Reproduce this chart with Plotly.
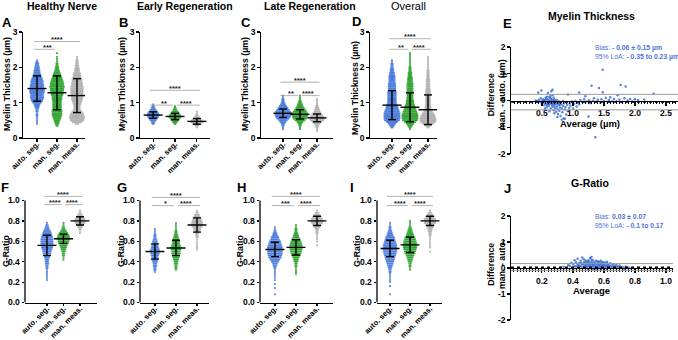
import plotly.graph_objects as go

W, H = 678, 340
FONT = "Liberation Sans, Arial, sans-serif"

CATEGORIES = ["auto. seg.", "man. seg.", "man. meas."]
COLORS = ["#3B6FD8", "#1E9B1E", "#A9A9A9"]

THICK_TICKS = [0, 1, 2, 3]
THICK_TICKTEXT = ["0", "1", "2", "3"]
GR_TICKS = [0.0, 0.2, 0.4, 0.6, 0.8, 1.0]
GR_TICKTEXT = ["0.0", "0.2", "0.4", "0.6", "0.8", "1.0"]

# value rows (bins) used by the dot plots
THICK_LEVELS = [0.20, 0.25, 0.30, 0.35, 0.40, 0.45, 0.50, 0.55, 0.60, 0.65, 0.70, 0.75,
                0.80, 0.85, 0.90, 0.95, 1.00, 1.05, 1.10, 1.15, 1.20, 1.25, 1.30, 1.35,
                1.40, 1.45, 1.50, 1.55, 1.60, 1.65, 1.70, 1.75, 1.80, 1.85, 1.90, 1.95,
                2.00, 2.05, 2.10, 2.15, 2.20, 2.25, 2.30, 2.35, 2.40, 2.45]
GR_LEVELS = [0.06, 0.08, 0.10, 0.12, 0.14, 0.16, 0.18, 0.20, 0.22, 0.24, 0.26, 0.28,
             0.30, 0.32, 0.34, 0.36, 0.38, 0.40, 0.42, 0.44, 0.46, 0.48, 0.50, 0.52,
             0.54, 0.56, 0.58, 0.60, 0.62, 0.64, 0.66, 0.68, 0.70, 0.72, 0.74, 0.76,
             0.78, 0.80, 0.82, 0.84, 0.86, 0.88, 0.90, 0.92]

# (first row value, counts per row)
A_AUTO = (0.40, [1, 1, 1, 1, 1, 2, 1, 2, 2, 3, 4, 5, 7, 9, 10, 11, 10, 11, 12, 12, 12, 11, 11,
                 10, 10, 9, 8, 7, 6, 5, 5, 4, 4, 3, 3, 2, 1])
A_MAN = (0.35, [2, 3, 4, 5, 6, 7, 8, 8, 8, 8, 7, 7, 7, 7, 7, 8, 8, 9, 10, 10, 11, 11, 12, 11, 11,
                10, 9, 8, 7, 6, 5, 4, 3, 3, 2, 2, 1, 1, 1, 1, 0, 1])
A_MEAS = (0.40, [3, 8, 11, 12, 12, 11, 10, 8, 6, 5, 5, 6, 7, 8, 9, 9, 10, 10, 10, 10, 10, 10, 9,
                 9, 8, 8, 7, 6, 6, 5, 4, 4, 3, 3, 2, 2, 2, 1, 1])
B_AUTO = (0.40, [2, 3, 5, 7, 9, 10, 9, 7, 5, 3, 2, 1])
B_MAN = (0.40, [2, 4, 6, 8, 10, 9, 7, 5, 3, 2, 1])
B_MEAS = (0.30, [1, 3, 7, 10, 9, 6, 4, 2, 1, 1])
C_AUTO = (0.25, [1, 1, 2, 3, 5, 7, 10, 12, 13, 13, 12, 10, 8, 6, 4, 3, 2, 2, 1, 1])
C_MAN = (0.25, [1, 1, 2, 3, 5, 8, 11, 12, 13, 12, 11, 9, 7, 5, 4, 3, 2, 1, 1, 1])
C_MEAS = (0.20, [1, 1, 2, 3, 5, 8, 11, 12, 11, 9, 7, 5, 4, 3, 2, 1, 1, 1, 1])
D_AUTO = (0.30, [2, 4, 6, 9, 12, 13, 13, 13, 13, 12, 11, 10, 9, 8, 7, 7, 7, 7, 7, 7, 7, 6, 6, 6,
                 6, 6, 5, 5, 5, 5, 4, 4, 3, 3, 2, 2, 2, 1, 1])
D_MAN = (0.25, [1, 2, 4, 6, 9, 12, 13, 13, 13, 12, 11, 10, 9, 8, 7, 6, 6, 5, 5, 5, 5, 5, 5, 5,
                5, 5, 5, 4, 4, 4, 3, 3, 3, 2, 2, 2, 1, 1, 1, 1, 1, 1, 1, 1])
D_MEAS = (0.30, [2, 5, 9, 12, 13, 13, 12, 11, 9, 7, 6, 5, 4, 4, 4, 4, 4, 4, 4, 4, 4, 4, 3, 3,
                 3, 3, 3, 3, 2, 2, 2, 2, 2, 1, 1, 1, 1, 1, 1, 1, 1])
F_AUTO = (0.22, [1, 1, 1, 1, 1, 1, 2, 2, 3, 3, 3, 4, 5, 6, 7, 8, 9, 10, 10, 10, 10, 9, 8, 7, 6,
                 4, 3, 2, 1])
F_MAN = (0.42, [1, 1, 2, 2, 3, 4, 5, 6, 8, 9, 10, 10, 9, 7, 5, 3, 2, 1, 1])
F_MEAS = (0.68, [1, 1, 2, 4, 6, 8, 10, 8, 6, 4, 2, 1])
G_AUTO = (0.30, [1, 2, 2, 3, 3, 4, 5, 5, 6, 7, 8, 7, 6, 5, 4, 4, 3, 2, 2, 1, 1, 1])
G_MAN = (0.32, [1, 2, 2, 3, 3, 4, 5, 6, 7, 7, 8, 8, 7, 6, 6, 5, 4, 3, 2, 2, 1, 1, 1, 1])
G_MEAS = (0.52, [1, 1, 1, 1, 1, 1, 2, 2, 3, 5, 6, 8, 9, 9, 8, 7, 5, 4, 2, 1])
H_AUTO = (0.08, [1, 0, 0, 1, 0, 1, 0, 1, 1, 1, 1, 1, 1, 2, 3, 4, 6, 8, 10, 11, 12, 12, 12, 12,
                 11, 10, 9, 7, 6, 4, 3, 2, 1, 1])
H_MAN = (0.28, [1, 1, 1, 1, 2, 2, 3, 4, 5, 7, 8, 9, 10, 10, 10, 9, 8, 7, 5, 4, 3, 2, 2, 1, 1])
H_MEAS = (0.56, [1, 0, 1, 1, 1, 1, 2, 2, 3, 5, 7, 9, 10, 9, 7, 5, 3, 1])
I_AUTO = (0.08, [1, 0, 0, 0, 1, 0, 1, 1, 1, 1, 1, 2, 2, 3, 4, 5, 6, 7, 8, 9, 10, 11, 11, 11,
                 11, 10, 9, 8, 7, 5, 4, 3, 2, 2, 1, 1])
I_MAN = (0.32, [1, 1, 2, 2, 3, 4, 5, 6, 8, 9, 10, 11, 11, 11, 10, 9, 8, 6, 5, 4, 3, 2, 1, 1, 1])
I_MEAS = (0.50, [1, 0, 1, 1, 1, 1, 1, 1, 2, 2, 3, 4, 5, 7, 9, 10, 9, 7, 5, 3, 1])

# mean and SD per group
A_MEAN, A_SD = [1.40, 1.28, 1.20], [0.36, 0.48, 0.48]
B_MEAN, B_SD = [0.65, 0.61, 0.47], [0.09, 0.09, 0.08]
C_MEAN, C_SD = [0.70, 0.67, 0.57], [0.12, 0.13, 0.11]
D_MEAN, D_SD = [0.93, 0.87, 0.80], [0.41, 0.41, 0.42]
F_MEAN, F_SD = [0.56, 0.625, 0.80], [0.10, 0.045, 0.04]
G_MEAN, G_SD = [0.50, 0.535, 0.76], [0.075, 0.075, 0.07]
H_MEAN, H_SD = [0.52, 0.54, 0.80], [0.07, 0.075, 0.045]
I_MEAN, I_SD = [0.53, 0.565, 0.80], [0.08, 0.075, 0.045]

# significance: (group i, group j, bar height, label)
A_SIG = [(0, 1, 2.51, "***"), (0, 2, 2.73, "****")]
B_SIG = [(0, 1, 0.93, "**"), (1, 2, 0.93, "****"), (0, 2, 1.35, "****")]
C_SIG = [(0, 1, 1.20, "**"), (1, 2, 1.20, "****"), (0, 2, 1.58, "****")]
D_SIG = [(0, 1, 2.51, "**"), (1, 2, 2.51, "****"), (0, 2, 2.81, "****")]
F_SIG = [(0, 1, 0.96, "****"), (1, 2, 0.96, "****"), (0, 2, 1.04, "****")]
G_SIG = [(0, 1, 0.95, "*"), (1, 2, 0.95, "****"), (0, 2, 1.03, "****")]
H_SIG = [(0, 1, 0.95, "***"), (1, 2, 0.95, "****"), (0, 2, 1.04, "****")]
I_SIG = [(0, 1, 0.95, "****"), (1, 2, 0.95, "****"), (0, 2, 1.04, "****")]

# Bland-Altman (average, difference)
E_POINTS = [
    (0.45, 0.02), (0.47, -0.05), (0.48, 0.08), (0.50, -0.02), (0.50, -0.12), (0.52, 0.05),
    (0.53, -0.08), (0.54, -0.18), (0.55, 0.00), (0.56, 0.10), (0.57, -0.04), (0.58, -0.14),
    (0.58, -0.25), (0.59, 0.04), (0.60, -0.08), (0.61, -0.20), (0.62, 0.12), (0.62, -0.02),
    (0.63, -0.12), (0.64, -0.30), (0.65, 0.06), (0.65, -0.06), (0.66, -0.16), (0.67, -0.24),
    (0.67, 0.20), (0.68, -0.02), (0.69, -0.10), (0.69, -0.36), (0.70, 0.04), (0.70, -0.20),
    (0.71, -0.28), (0.72, -0.06), (0.72, -0.14), (0.73, -0.42), (0.74, 0.02), (0.74, -0.22),
    (0.75, -0.32), (0.76, -0.10), (0.76, -0.50), (0.77, -0.04), (0.78, -0.18), (0.78, -0.38),
    (0.79, -0.26), (0.80, -0.08), (0.80, -0.58), (0.81, -0.14), (0.82, -0.30), (0.83, -0.44),
    (0.84, -0.02), (0.84, -0.20), (0.85, -0.66), (0.86, -0.10), (0.87, -0.34), (0.88, -0.24),
    (0.89, -0.52), (0.90, -0.06), (0.91, -0.16), (0.92, -0.40), (0.94, -0.28), (0.95, -0.10),
    (0.96, -0.20), (0.98, -0.04), (1.00, -0.30), (1.02, -0.12), (1.04, -0.02), (1.06, -0.22),
    (1.08, -0.08), (1.10, -0.14), (0.40, 0.00), (0.42, -0.03), (0.44, 0.30), (0.49, 0.37),
    (0.67, 0.40), (0.60, 0.28), (0.55, -0.30), (0.62, -0.40), (0.70, -0.48), (0.75, -0.62),
    (0.82, -0.72), (0.87, -0.68), (1.12, 0.02), (1.15, -0.06), (1.18, 0.05), (1.20, 0.16),
    (1.22, -0.04), (1.25, -0.60), (1.26, 0.01), (1.28, -0.10), (1.30, 0.55), (1.32, -0.02),
    (1.34, 0.08), (1.36, -1.37), (1.38, -0.05), (1.40, 0.03), (1.42, 0.47), (1.44, -0.08),
    (1.46, 0.05), (1.48, 1.15), (1.48, 0.31), (1.50, -0.03), (1.53, 0.10), (1.56, -0.06),
    (1.58, 0.02), (1.60, 0.12), (1.63, -0.04), (1.66, 0.06), (1.70, -0.02), (1.72, 0.20),
    (1.75, 0.04), (1.77, 0.58), (1.80, -0.05), (1.83, 0.08), (1.85, 0.52), (1.88, 0.00),
    (1.92, 0.06), (1.95, -0.04), (2.00, 0.05), (2.05, 0.02), (2.15, 0.04), (2.30, 0.25),
    (0.65, 0.35), (1.10, 0.30), (0.92, 0.22), (0.51, -0.06), (0.53, 0.02), (0.56, -0.10),
    (0.57, 0.06), (0.59, -0.18), (0.61, 0.00), (0.63, -0.04), (0.64, 0.08), (0.66, -0.08),
    (0.68, -0.14), (0.71, -0.02), (0.73, -0.10), (0.66, 0.02), (0.60, -0.14), (0.54, -0.02),
    (0.58, 0.14), (0.63, 0.16), (0.69, 0.10), (0.77, -0.14), (0.79, -0.06),
]
J_POINTS = [
    (0.32, 0.02), (0.34, 0.05), (0.36, 0.00), (0.38, 0.08), (0.40, 0.03), (0.40, 0.15),
    (0.41, 0.30), (0.42, 0.06), (0.42, 0.22), (0.43, 0.12), (0.43, 0.36), (0.44, 0.02),
    (0.44, 0.18), (0.45, 0.08), (0.45, 0.28), (0.46, 0.14), (0.46, 0.00), (0.47, 0.22),
    (0.47, 0.06), (0.47, 0.34), (0.48, 0.10), (0.48, 0.18), (0.48, 0.02), (0.49, 0.26),
    (0.49, 0.12), (0.49, 0.04), (0.50, 0.16), (0.50, 0.30), (0.50, 0.08), (0.50, -0.02),
    (0.51, 0.20), (0.51, 0.12), (0.51, 0.38), (0.52, 0.04), (0.52, 0.24), (0.52, 0.14),
    (0.53, 0.08), (0.53, 0.30), (0.53, 0.18), (0.53, -0.04), (0.54, 0.10), (0.54, 0.22),
    (0.54, 0.02), (0.55, 0.16), (0.55, 0.28), (0.55, 0.06), (0.56, 0.12), (0.56, 0.20),
    (0.56, -0.02), (0.57, 0.08), (0.57, 0.24), (0.57, 0.14), (0.58, 0.04), (0.58, 0.18),
    (0.58, 0.10), (0.59, 0.22), (0.59, 0.06), (0.59, 0.14), (0.60, 0.00), (0.60, 0.16),
    (0.60, 0.10), (0.61, 0.04), (0.61, 0.20), (0.61, 0.12), (0.62, 0.08), (0.62, 0.16),
    (0.62, -0.04), (0.63, 0.02), (0.63, 0.12), (0.64, 0.06), (0.64, 0.18), (0.65, 0.10),
    (0.65, 0.00), (0.66, 0.04), (0.66, 0.14), (0.67, 0.08), (0.68, 0.02), (0.68, 0.12),
    (0.69, 0.06), (0.70, 0.00), (0.70, 0.10), (0.72, 0.04), (0.73, -0.02), (0.74, 0.06),
    (0.76, 0.02), (0.78, 0.00), (0.46, 0.40), (0.52, 0.42), (0.50, -0.08), (0.55, -0.08),
    (0.58, -0.06), (0.62, 0.24), (0.44, 0.10), (0.41, 0.08), (0.39, 0.20), (0.37, 0.12),
    (0.47, 0.14), (0.49, 0.20), (0.51, 0.06), (0.52, 0.32), (0.54, 0.16), (0.56, 0.26),
    (0.57, 0.02), (0.59, 0.10), (0.60, 0.22), (0.63, 0.08), (0.53, 0.12), (0.48, 0.28),
    (0.45, 0.20), (0.58, 0.28), (0.50, 0.24),
]
E_BIAS, E_LOA = -0.06, [-0.35, 0.23]
J_BIAS, J_LOA = 0.03, [-0.10, 0.17]


def ref(k, a):
    return a if k == 1 else f"{a}{k}"


def axname(k, a):
    return f"{a}axis" if k == 1 else f"{a}axis{k}"


def expand(levels, group):
    start, counts = group
    i0 = min(range(len(levels)), key=lambda i: abs(levels[i] - start))
    return list(zip(levels[i0:i0 + len(counts)], counts))


def xdom(p0, p1):
    return [p0 / W, p1 / W]


def ydom(top, bot):
    return [1 - bot / H, 1 - top / H]


def tickfont(size=8.5):
    return dict(family=FONT, size=size, color="black", weight="bold")


def base_axis(**kw):
    d = dict(showline=True, linecolor="black", linewidth=1.3, ticks="outside", ticklen=2.5,
             tickwidth=1.2, tickcolor="black", showgrid=False, zeroline=False,
             fixedrange=True, automargin=False, tickfont=tickfont())
    d.update(kw)
    return d


# layout of swarm panels: axis number, groups, mean, sd, levels, x px, y px, x range, kind, sig
SWARM = [
    (1, [A_AUTO, A_MAN, A_MEAS], A_MEAN, A_SD, THICK_LEVELS, (23, 85), (32, 138), [-0.7, 2.4], "t", A_SIG),
    (2, [B_AUTO, B_MAN, B_MEAS], B_MEAN, B_SD, THICK_LEVELS, (140, 210), (32, 138), [-0.6, 2.6], "t", B_SIG),
    (3, [C_AUTO, C_MAN, C_MEAS], C_MEAN, C_SD, THICK_LEVELS, (261, 333), (32, 138), [-1.29, 2.94], "t", C_SIG),
    (4, [D_AUTO, D_MAN, D_MEAS], D_MEAN, D_SD, THICK_LEVELS, (370, 437), (32, 138), [-1.22, 2.5], "t", D_SIG),
    (6, [F_AUTO, F_MAN, F_MEAS], F_MEAN, F_SD, GR_LEVELS, (25, 97), (190.3, 302.5), [-1.33, 3.03], "g", F_SIG),
    (7, [G_AUTO, G_MAN, G_MEAS], G_MEAN, G_SD, GR_LEVELS, (140, 209), (190.3, 302.5), [-0.71, 2.57], "g", G_SIG),
    (8, [H_AUTO, H_MAN, H_MEAS], H_MEAN, H_SD, GR_LEVELS, (260, 333), (190.3, 302.5), [-0.71, 2.76], "g", H_SIG),
    (9, [I_AUTO, I_MAN, I_MEAS], I_MEAN, I_SD, GR_LEVELS, (377, 442), (190.3, 302.5), [-0.65, 2.6], "g", I_SIG),
]

fig = go.Figure()
layout = dict(width=W, height=H, margin=dict(l=0, r=0, t=0, b=0), paper_bgcolor="white",
              plot_bgcolor="white", showlegend=False, template="none",
              font=dict(family=FONT, color="black"))
shapes, annotations = [], []

for (k, groups, mean, sd, levels, xpx, ypx, xr, kind, sig) in SWARM:
    xa, ya = ref(k, "x"), ref(k, "y")
    ppu = (xpx[1] - xpx[0]) / (xr[1] - xr[0])
    dx = 1.25 / ppu
    for c, grp in enumerate(groups):
        xs, ys = [], []
        for v, n in expand(levels, grp):
            for i in range(n):
                xs.append(c + (i - (n - 1) / 2) * dx)
                ys.append(v)
        fig.add_trace(go.Scatter(x=xs, y=ys, mode="markers", xaxis=xa, yaxis=ya,
                                 marker=dict(size=2.2, color=COLORS[c], opacity=0.8),
                                 hoverinfo="skip"))
    # mean +- SD
    lx, ly = [], []
    hw, cw = 9.5 / ppu, 4.0 / ppu
    for c in range(3):
        m, s = mean[c], sd[c]
        lx += [c - hw, c + hw, None, c, c, None, c - cw, c + cw, None, c - cw, c + cw, None]
        ly += [m, m, None, m - s, m + s, None, m + s, m + s, None, m - s, m - s, None]
    fig.add_trace(go.Scatter(x=lx, y=ly, mode="lines", xaxis=xa, yaxis=ya,
                             line=dict(color="black", width=1.4), hoverinfo="skip"))
    # significance bars
    for (i, j, yb, lab) in sig:
        if j - i == 1:
            x0, x1 = (i - 0.15, j - 0.1) if i == 0 else (i + 0.1, j + 0.15)
        else:
            x0, x1 = i - 0.15, j + 0.15
        shapes.append(dict(type="line", xref=xa, yref=ya, x0=x0, x1=x1, y0=yb, y1=yb,
                           line=dict(color="#A0A0A0", width=0.8)))
        annotations.append(dict(text=f"<b>{lab}</b>", xref=xa, yref=ya, x=(i + j) / 2, y=yb,
                                showarrow=False, yanchor="middle", yshift=2,
                                font=dict(family=FONT, size=7.5, color="#222222")))
    yax = base_axis(domain=ydom(*ypx), anchor=xa)
    if kind == "t":
        yax.update(range=[0, 3], tickmode="array", tickvals=THICK_TICKS, ticktext=THICK_TICKTEXT)
    else:
        yax.update(range=[0, 1.1], tickmode="array", tickvals=GR_TICKS, ticktext=GR_TICKTEXT,
                   showline=False)
        shapes.append(dict(type="line", xref=f"{xa} domain", yref=ya, x0=0, x1=0,
                           y0=GR_TICKS[0], y1=GR_TICKS[-1], line=dict(color="black", width=1.3)))
    layout[axname(k, "y")] = yax
    layout[axname(k, "x")] = base_axis(domain=xdom(*xpx), anchor=ya, range=xr, tickmode="array",
                                       tickvals=[0, 1, 2], ticktext=CATEGORIES, tickangle=-45,
                                       tickfont=tickfont(7.6), ticklabelstandoff=-5)

# Bland-Altman panels
BA = [
    (5, E_POINTS, E_BIAS, E_LOA, (511, 678), (47, 154), [0.001, 2.694], 0.5, 0.05),
    (10, J_POINTS, J_BIAS, J_LOA, (511, 673), (216, 320), [0.001, 1.045], 0.2, 0.02),
]
for (k, pts, bias, loa, xpx, ypx, xr, dmaj, dmin) in BA:
    xa, ya = ref(k, "x"), ref(k, "y")
    for v in loa:
        shapes.append(dict(type="line", xref=f"{xa} domain", yref=ya, x0=0, x1=1, y0=v, y1=v,
                           line=dict(color="#9A9A9A", width=1)))
    fig.add_trace(go.Scatter(x=[p[0] for p in pts], y=[p[1] for p in pts], mode="markers",
                             xaxis=xa, yaxis=ya, hoverinfo="skip",
                             marker=dict(size=2.5, color=COLORS[0], opacity=0.85)))
    shapes.append(dict(type="line", xref=f"{xa} domain", yref=ya, x0=0, x1=1, y0=bias, y1=bias,
                       line=dict(color="black", width=1.5, dash="dot")))
    yd = ydom(*ypx)
    layout[axname(k, "y")] = base_axis(domain=yd, anchor=xa, range=[-2, 2], tickmode="array",
                                       tickvals=[-2, -1, 0, 1, 2],
                                       ticktext=["-2", "-1", "0", "1", "2"])
    layout[axname(k, "x")] = base_axis(domain=xdom(*xpx), anchor="free",
                                       position=(yd[0] + yd[1]) / 2, range=xr,
                                       tickmode="linear", tick0=dmaj, dtick=dmaj,
                                       tickformat=".1f", ticklen=4,
                                       minor=dict(tick0=0, dtick=dmin, ticks="outside",
                                                  ticklen=2.5, tickwidth=1, tickcolor="black"))


def ann(text, px, py, size, bold=True, angle=0, xanchor="center", color="black"):
    t = f"<b>{text}</b>" if bold else text
    annotations.append(dict(text=t, x=px / W, y=1 - py / H, xref="paper", yref="paper",
                            showarrow=False, textangle=angle, xanchor=xanchor, yanchor="middle",
                            font=dict(family=FONT, size=size, color=color)))


# titles
ann("Healthy Nerve", 62, 6, 10.5)
ann("Early Regeneration", 185, 6, 10.5)
ann("Late Regeneration", 310, 6, 10.5)
ann("Overall", 408, 6, 11, bold=False)
ann("Myelin Thickness", 591, 16, 10.5)
ann("G-Ratio", 590, 183, 10.5)
# panel letters
for lab, px, py in [("A", 7, 23), ("B", 123, 23), ("C", 246, 23), ("D", 356, 21), ("E", 507, 24),
                    ("F", 5, 187), ("G", 122, 187), ("H", 241, 187), ("I", 352, 187),
                    ("J", 507, 188)]:
    ann(lab, px, py, 13)
# axis titles
for px, py in ((7, 84), (122, 84), (245, 84), (355, 88)):
    ann("Myelin Thickness (µm)", px, py, 8.8, angle=-90)
for px in (6, 121, 240, 357):
    ann("G-Ratio", px, 251, 8.8, angle=-90)
ann("Difference<br>man. - auto. (µm)", 496, 95, 8.8, angle=-90)
ann("Difference<br>man. - auto.", 496, 265, 8.8, angle=-90)
ann("Average (µm)", 590, 123, 9.5)
ann("Average", 591, 290, 9.5)
# Bland-Altman statistics
BLUE_TXT = "#4A72D8"
ann("Bias: <b>- 0.06 ± 0.15 µm</b>", 593, 48, 6.8, bold=False, xanchor="left", color=BLUE_TXT)
ann("95% LoA: <b>- 0.35 to 0.23 µm</b>", 593, 57, 6.8, bold=False, xanchor="left", color=BLUE_TXT)
ann("Bias: <b>0.03 ± 0.07</b>", 593, 217, 6.8, bold=False, xanchor="left", color=BLUE_TXT)
ann("95% LoA: <b>- 0.1 to 0.17</b>", 593, 225, 6.8, bold=False, xanchor="left", color=BLUE_TXT)

layout["shapes"] = shapes
layout["annotations"] = annotations
fig.update_layout(**layout)
fig.write_html("out.html", config={"displayModeBar": False, "staticPlot": True},
               post_script="document.body.style.margin='0px';document.body.style.padding='0px';")
